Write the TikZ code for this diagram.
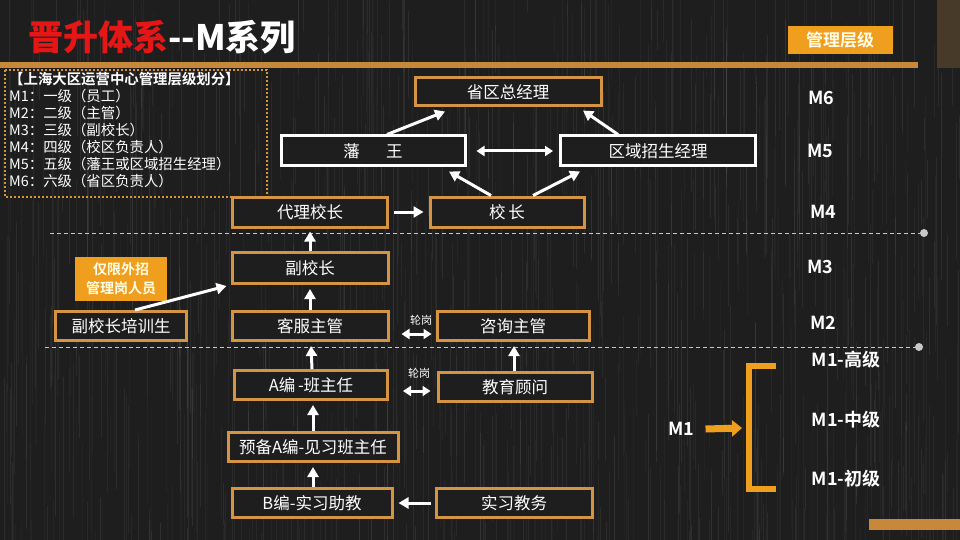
\documentclass[tikz,border=0pt]{standalone}
\usepackage{fontspec}
\setmainfont{Noto Sans CJK SC}
\newfontfamily\cjkb{Noto Sans CJK SC Bold}
\newfontfamily\cjkh{Noto Sans CJK SC Black}
\usetikzlibrary{arrows.meta}
\definecolor{bgc}{RGB}{30,30,30}
\definecolor{boxor}{RGB}{212,148,68}
\definecolor{lineor}{RGB}{200,136,58}
\definecolor{fillor}{RGB}{240,158,30}
\definecolor{titred}{RGB}{228,22,22}
\definecolor{corner}{RGB}{72,58,40}
\definecolor{dashc}{RGB}{200,200,200}
\tikzset{
  obox/.style={draw=boxor, line width=3pt, fill=bgc, inner sep=0pt, text=white, font=\fontsize{16.5}{18}\selectfont},
  wbox/.style={draw=white, line width=3pt, fill=bgc, inner sep=0pt, text=white, font=\fontsize{16.5}{18}\selectfont},
  arr/.style={draw=white, line width=3pt, -{Triangle[length=10pt,width=11pt]}},
  darr/.style={draw=white, line width=3pt, {Triangle[length=8pt,width=10pt]}-{Triangle[length=8pt,width=10pt]}},
  lvl/.style={text=white, font=\cjkb\fontsize{18}{20}\selectfont},
  dline/.style={draw=dashc, line width=1pt, dash pattern=on 4pt off 3pt},
  rot/.style={text=white, font=\fontsize{11}{12}\selectfont}
}
\begin{document}
\begin{tikzpicture}[x=1pt,y=-1pt]
\useasboundingbox (0,0) rectangle (960,540);
\fill[bgc] (0,0) rectangle (960,540);
% texture
\pgfmathsetseed{12}
\foreach \i in {1,...,900}{
  \pgfmathsetmacro\xx{rnd*960}
  \pgfmathsetmacro\yy{rnd*600-60}
  \pgfmathsetmacro\ll{30+rnd*180}
  \pgfmathsetmacro\oo{0.02+rnd*0.05}
  \draw[white, opacity=\oo, line width=0.5pt] (\xx,\yy) -- ++(0,\ll);
}
% frame decorations
\fill[corner] (937,0) rectangle (960,68);
\fill[lineor] (0,62) rectangle (918,68);
\fill[lineor] (869,519) rectangle (960,530);
% title
\node[anchor=west, inner sep=0pt, font=\cjkh\fontsize{35}{38}\selectfont] (title) at (28,37)
  {\textcolor{titred}{晋升体系}\textcolor{white}{-{}-M系列}};
\node[fill=fillor, minimum width=105pt, minimum height=28pt, inner sep=0pt, text=white!92!yellow, font=\cjkb\fontsize{17}{19}\selectfont] (mgr) at (840,40) {管理层级};
% dotted legend box
\draw[boxor, line width=2.5pt, dash pattern=on 2pt off 2pt] (5,70) rectangle (267,197);
\node[anchor=north west, inner sep=0pt, align=left, text=white, font=\fontsize{14.4}{17}\selectfont] (legend) at (9,72)
  {{\cjkb 【上海大区运营中心管理层级划分】}\\
   M1：一级（员工）\\
   M2：二级（主管）\\
   M3：三级（副校长）\\
   M4：四级（校区负责人）\\
   M5：五级（藩王或区域招生经理）\\
   M6：六级（省区负责人）};
% dashed separators
\coordinate (d1a) at (50,233); \coordinate (d1b) at (924,233);
\coordinate (d2a) at (45,347); \coordinate (d2b) at (919,347);
\draw[dline] (d1a) -- (d1b);
\draw[dline] (d2a) -- (d2b);
\fill[dashc] (d1b) circle (4pt);
\fill[dashc] (d2b) circle (4pt);
% boxes
\node[obox, minimum width=186pt, minimum height=28pt] (sqz) at (508,92) {省区总经理};
\node[wbox, minimum width=184pt, minimum height=30pt] (fw) at (373,151) {藩\hspace{1.6em}王};
\node[wbox, minimum width=195pt, minimum height=30pt] (qy) at (658,151) {区域招生经理};
\node[obox, minimum width=155pt, minimum height=30pt] (dl) at (310,212) {代理校长};
\node[obox, minimum width=154pt, minimum height=30pt] (xz) at (507,212) {校\,长};
\node[obox, minimum width=156pt, minimum height=31pt] (fxz) at (310,268) {副校长};
\node[fill=fillor, minimum width=92pt, minimum height=44pt, inner sep=0pt, align=center, text=white!90!yellow, font=\cjkb\fontsize{14}{19}\selectfont] (wz) at (121,279) {仅限外招\\管理岗人员};
\node[obox, minimum width=131pt, minimum height=29pt] (pxs) at (121,326) {副校长培训生};
\node[obox, minimum width=156pt, minimum height=29pt] (kf) at (310,326) {客服主管};
\node[obox, minimum width=152pt, minimum height=29pt] (zx) at (513,326) {咨询主管};
\node[obox, minimum width=153pt, minimum height=29pt] (abz) at (311,385) {A编\,-班主任};
\node[obox, minimum width=154pt, minimum height=29pt] (jy) at (515,387) {教育顾问};
\node[obox, minimum width=170pt, minimum height=29pt] (yb) at (313,447) {预备A编-见习班主任};
\node[obox, minimum width=160pt, minimum height=29pt] (bb) at (312,503) {B编-实习助教};
\node[obox, minimum width=156pt, minimum height=29pt] (sx) at (514,503) {实习教务};
% arrows
\draw[arr] ([xshift=14pt]fw.north) -- ([xshift=-63pt,yshift=-4pt]sqz.south);
\draw[arr] ([xshift=-40pt]qy.north) -- ([xshift=75pt,yshift=-3pt]sqz.south);
\draw[darr] ([xshift=10pt]fw.east) -- ([xshift=-6pt]qy.west);
\draw[arr] ([xshift=-16pt]xz.north) -- ([xshift=76pt,yshift=-4pt]fw.south);
\draw[arr] ([xshift=26pt]xz.north) -- ([xshift=-78pt,yshift=-4pt]qy.south);
\draw[arr] ([xshift=5pt]dl.east) -- ([xshift=-5pt]xz.west);
\draw[arr] (fxz.north) -- ([yshift=-3pt]dl.south);
\draw[arr] (kf.north) -- ([yshift=-4pt]fxz.south);
\draw[arr] ([xshift=14pt]pxs.north) -- ([xshift=-4pt,yshift=-1pt]fxz.south west);
\draw[darr] ([xshift=12pt,yshift=-8pt]kf.east) -- ([xshift=-4pt,yshift=-8pt]zx.west);
\node[rot] (rot1) at (421,320) {轮岗};
\draw[arr] ([xshift=1pt]abz.north) -- ([xshift=1pt,yshift=-4pt]kf.south);
\draw[arr] ([xshift=-1pt]jy.north) -- ([xshift=1pt,yshift=-4pt]zx.south);
\draw[darr] ([xshift=14pt,yshift=-6pt]abz.east) -- ([xshift=-6pt,yshift=-4pt]jy.west);
\node[rot] (rot2) at (419,373) {轮岗};
\draw[arr] (yb.north) -- ([xshift=2pt,yshift=-4pt]abz.south);
\draw[arr] ([xshift=1pt]bb.north) -- ([yshift=-4pt]yb.south);
\draw[arr] ([xshift=-4pt]sx.west) -- ([xshift=5pt]bb.east);
% right levels
\node[lvl] (m6) at (821,98) {M6};
\node[lvl] (m5) at (820,151) {M5};
\node[lvl] (m4) at (823,212) {M4};
\node[lvl] (m3) at (820,267) {M3};
\node[lvl] (m2) at (823,323) {M2};
\node[lvl] (m1h) at (846,360) {M1-高级};
\node[lvl] (m1m) at (846,420) {M1-中级};
\node[lvl] (m1l) at (846,479) {M1-初级};
\node[lvl] (m1) at (681,429) {M1};
\coordinate (brT) at (776,366);
\coordinate (brB) at (776,489);
\draw[fillor, line width=6pt] (brT) -- (748.5,366) -- (748.5,489) -- (brB);
\coordinate (brM) at (742,428);
\draw[fillor, line width=7pt, -{Triangle[length=10pt,width=16pt]}] ([xshift=8pt]m1.east) -- (brM);
\end{tikzpicture}
\end{document}
